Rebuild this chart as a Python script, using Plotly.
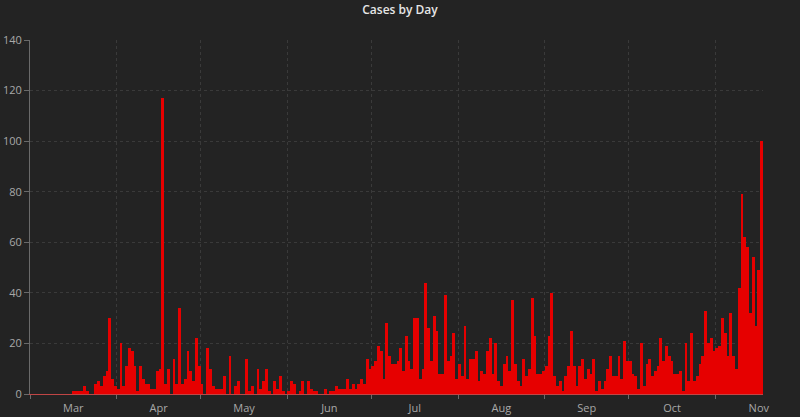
import pandas as pd
import plotly.graph_objects as go

start_date = "2020-03-01"
cases = [
    0, 0, 0, 0, 0, 0, 0, 0, 0, 0, 0, 0, 0, 0, 0,
    1, 1, 1, 1, 3, 1, 0, 0, 4, 5, 3, 7, 9, 30, 6,
    3, 2, 20, 3, 11, 18, 17, 11, 1, 11, 6, 4, 4, 2, 2,
    9, 10, 117, 4, 10, 0, 14, 4, 34, 4, 6, 17, 9, 5, 22,
    11, 4, 0, 18, 10, 3, 2, 2, 2, 7, 0, 15, 0, 3, 5,
    0, 0, 14, 1, 3, 0, 10, 2, 5, 10, 1, 0, 5, 2, 7,
    1, 0, 1, 5, 4, 0, 1, 5, 0, 5, 2, 1, 1, 0, 0,
    2, 0, 1, 1, 3, 2, 2, 2, 6, 2, 4, 2, 4, 6, 4,
    14, 10, 11, 13, 19, 17, 6, 28, 15, 12, 12, 13,
    18, 9, 23, 13, 10, 30, 30, 6, 10, 44, 26, 13, 31, 25, 8,
    8, 39, 13, 15, 24, 6, 12, 7, 27, 6, 14, 14, 17, 5, 9,
    8, 17, 22, 8, 20, 5, 3, 12, 15, 9, 37, 12, 5, 3, 14,
    7, 10, 38, 23, 8, 8, 9, 11, 23, 40, 7, 3, 5, 1, 7,
    11, 25, 11, 3, 11, 14,
    6, 10, 8, 14, 1, 5, 2, 5, 10, 15, 7, 7, 15, 6, 21,
    13, 13, 8, 7, 2, 20, 3, 12, 14, 7, 9, 11, 22, 13, 19,
    15, 13, 8, 8, 9, 1, 20, 5, 24, 5, 7, 12, 15, 33, 20,
    22, 17, 18, 19, 30, 24, 15, 32, 15, 10, 42, 79, 62, 58, 32,
    54, 27, 49, 100,
]
dates = pd.date_range(start_date, periods=len(cases), freq="D")
x_end = dates[-1] + pd.Timedelta(days=1)

y_ticks = [0, 20, 40, 60, 80, 100, 120, 140]

fig = go.Figure()
fig.add_bar(
    x=dates,
    y=cases,
    width=86400000,
    offset=0,
    marker=dict(color="#e60000", line=dict(width=0)),
    hovertemplate="%{x|%b %d}: %{y}<extra></extra>",
)

bg = "#232323"
fig.update_layout(
    width=800,
    height=417,
    paper_bgcolor=bg,
    plot_bgcolor=bg,
    margin=dict(l=30, r=37, t=40, b=23, autoexpand=False),
    showlegend=False,
    bargap=0,
    title=dict(
        text="Cases by Day",
        x=0.5,
        xanchor="center",
        y=0.976,
        yanchor="middle",
        font=dict(family="Open Sans, Lato, sans-serif", size=12, color="#e6e6e6", weight=600),
    ),
    font=dict(family="Open Sans, Lato, sans-serif", size=11, color="#a8a8a8"),
)
fig.update_xaxes(
    type="date",
    automargin=False,
    range=[dates[0], x_end],
    tick0=start_date,
    dtick="M1",
    tickformat="%b",
    ticklabelmode="period",
    ticks="outside",
    ticklen=4,
    tickcolor="#6a6a6a",
    showgrid=True,
    gridcolor="#3a3a3a",
    griddash="3px,3px",
    gridwidth=1,
    showline=True,
    linecolor="#c04545",
    linewidth=1,
    zeroline=False,
    tickfont=dict(size=11, color="#a8a8a8"),
    fixedrange=True,
)
fig.update_yaxes(
    automargin=False,
    range=[0, 140],
    tickvals=y_ticks,
    ticks="outside",
    ticklen=5,
    tickcolor="#6a6a6a",
    showgrid=True,
    gridcolor="#3a3a3a",
    griddash="3px,3px",
    gridwidth=1,
    showline=True,
    linecolor="#6a6a6a",
    linewidth=1,
    zeroline=False,
    tickfont=dict(size=11, color="#a8a8a8"),
    fixedrange=True,
)

fig.write_html(
    "out.html",
    config={"displayModeBar": False},
    post_script="document.body.style.margin='0';document.body.style.background='#232323';",
)
